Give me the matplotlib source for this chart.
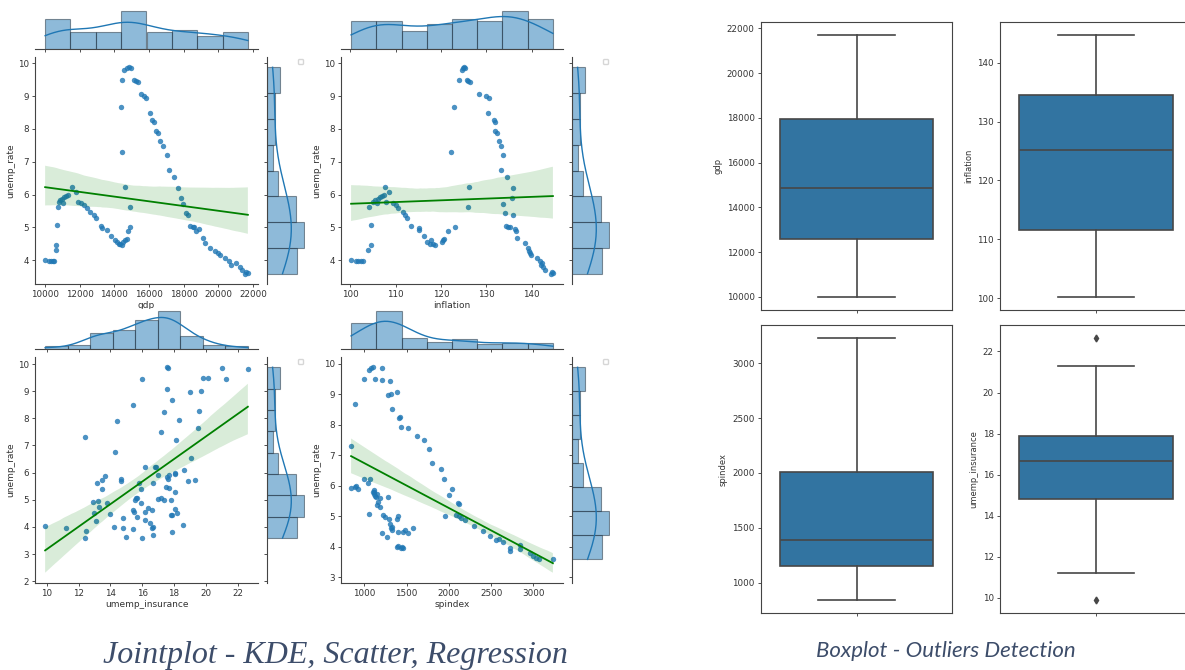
import matplotlib
matplotlib.use('Agg')
import matplotlib.pyplot as plt
import numpy as np
import seaborn as sns

W, H = 1185, 670

# quarterly rows
gdp = [10000, 10230, 10360, 10460, 10510, 10620, 10640, 10660, 10746, 10800,
       10880, 11050, 10950, 11100, 11200, 11300, 11570, 11760, 11910, 12050,
       12250, 12420, 12600, 12800, 12910, 13200, 13290, 13580, 13800, 14050,
       14150, 14250, 14330, 14420, 14500, 14600, 14700, 14800, 14920, 14900,
       14590, 14440, 14380, 14440, 14570, 14700, 14850, 14980, 15110, 15220,
       15340, 15530, 15680, 15800, 16030, 16160, 16300, 16410, 16540, 16640,
       16790, 17060, 17120, 17450, 17690, 17830, 17940, 18130, 18270, 18360,
       18510, 18600, 18710, 18900, 19130, 19220, 19510, 19800, 19950, 20090,
       20370, 20620, 20750, 21000, 21230, 21380, 21520, 21610, 21700]
inflation = [100.2, 101.2, 101.7, 102.3, 102.8, 103.9, 104.7, 104.7, 104.1, 105.0,
             105.5, 105.9, 106.2, 106.6, 107.0, 107.4, 107.6, 108.6, 108.0, 109.5,
             110.2, 110.5, 111.6, 112.0, 112.5, 113.5, 115.1, 115.2, 116.2, 117.8,
             116.9, 117.5, 118.2, 118.8, 120.2, 120.4, 120.6, 121.5, 123.2, 126.0,
             126.2, 122.3, 122.8, 124.1, 124.6, 124.9, 125.1, 125.3, 125.7, 126.0,
             126.4, 128.4, 130.0, 130.5, 130.3, 131.8, 132.0, 132.0, 132.4, 132.8,
             133.2, 133.7, 133.2, 134.6, 135.8, 135.7, 133.7, 134.2, 135.8, 134.4,
             134.8, 135.2, 136.6, 136.4, 136.8, 138.6, 139.1, 139.5, 139.7, 139.9,
             141.3, 141.8, 142.0, 142.3, 142.5, 143.0, 144.2, 144.4, 144.7]
unemp_rate = [4.02, 3.97, 3.98, 3.97, 3.98, 4.32, 4.45, 5.07, 5.63, 5.78,
              5.85, 5.73, 5.88, 5.92, 5.95, 5.98, 6.22, 6.08, 5.78, 5.73,
              5.68, 5.60, 5.48, 5.38, 5.30, 5.05, 4.99, 4.91, 4.75, 4.62,
              4.55, 4.50, 4.48, 4.45, 4.55, 4.61, 4.65, 4.90, 5.02, 5.63,
              6.22, 7.30, 8.68, 9.49, 9.80, 9.85, 9.88, 9.87, 9.49, 9.46,
              9.43, 9.07, 9.02, 8.96, 8.50, 8.26, 8.22, 7.93, 7.89, 7.63,
              7.49, 7.22, 6.75, 6.54, 6.21, 5.90, 5.70, 5.45, 5.39, 5.05,
              5.01, 5.00, 4.88, 4.94, 4.68, 4.51, 4.36, 4.27, 4.22, 4.15,
              4.07, 3.97, 3.85, 3.93, 3.80, 3.69, 3.59, 3.64, 3.60]
spindex = [1400, 1430, 1450, 1460, 1390, 1262, 1210, 1051, 1140, 1100,
           1110, 1150, 920, 842, 892, 900, 1000, 1043, 1110, 1110,
           1120, 1185, 1160, 1150, 1180, 1217, 1245, 1290, 1300, 1310,
           1330, 1394, 1457, 1513, 1480, 1572, 1330, 1386, 1398, 1276,
           1060, 842, 890, 1000, 1059, 1079, 1099, 1205, 1126, 1205,
           1304, 1387, 1316, 1276, 1328, 1422, 1406, 1434, 1520, 1623,
           1702, 1769, 1801, 1900, 1947, 2038, 2006, 2104, 2124, 2085,
           2124, 1959, 2191, 2144, 2293, 2408, 2491, 2598, 2560, 2640,
           2842, 2728, 2728, 2842, 2964, 3000, 3071, 3030, 3230]
umemp_insurance = [9.9, 11.2, 14.2, 14.8, 16.7, 14.8, 17.8, 15.6, 15.8, 17.6,
                   17.57, 13.5, 13.68, 17.7, 18.09, 18.05, 16.8, 18.65, 14.67, 19.3,
                   18.9, 16.66, 17.5, 13.5, 18.05, 15.7, 15.55, 12.9, 13.3, 15.4,
                   16.2, 13.0, 14.0, 17.9, 15.5, 16.6, 18.05, 13.8, 17.0, 13.15,
                   16.9, 12.4, 17.9, 19.85, 22.65, 21.0, 17.55, 17.6, 20.13, 21.29,
                   15.99, 17.57, 19.7, 18.98, 15.4, 19.6, 17.36, 18.3, 14.4, 19.5,
                   17.19, 18.14, 14.3, 19.1, 16.2, 17.0, 14.7, 17.7, 15.9, 17.2,
                   17.4, 17.8, 15.9, 13.2, 16.4, 18.2, 15.7, 16.2, 13.1, 16.5,
                   18.6, 16.6, 12.5, 15.4, 17.9, 16.7, 12.4, 15.0, 15.99]

BLUE = '#1f77b4'
TEXT = '#333333'
CAPTION = '#3d4d6a'


def box(x0, y0, x1, y1):
    """pixel box (top-left origin) -> figure rect"""
    return [x0 / W, 1 - y1 / H, (x1 - x0) / W, (y1 - y0) / H]


def style(ax):
    ax.tick_params(labelsize=6.3, length=2.5, width=0.6, pad=2, colors=TEXT)
    for s in ax.spines.values():
        s.set_linewidth(0.8)
        s.set_color('#444444')


def kde_counts(vals, bins, bw_adjust=1.0):
    """gaussian kde (scott bandwidth) scaled to histogram counts"""
    v = np.asarray(vals, dtype=float)
    n = len(v)
    bw = v.std(ddof=1) * n ** (-0.2) * bw_adjust
    grid = np.linspace(v.min(), v.max(), 200)
    dens = np.exp(-0.5 * ((grid[:, None] - v[None, :]) / bw) ** 2).sum(1)
    dens /= n * bw * np.sqrt(2 * np.pi)
    return grid, dens * n * (v.max() - v.min()) / bins


def jointplot(fig, x, xname, xbins, jx0, jx1, jy0, jy1):
    ax = fig.add_axes(box(jx0, jy0, jx1, jy1))
    axt = fig.add_axes(box(jx0, jy0 - 48, jx1, jy0 - 8), sharex=ax)
    axr = fig.add_axes(box(jx1 + 9, jy0, jx1 + 47, jy1), sharey=ax)

    sns.regplot(x=x, y=unemp_rate, ax=ax, seed=0,
                scatter_kws=dict(s=15, color=BLUE, alpha=0.8, linewidths=0),
                line_kws=dict(color='green', lw=1.3))
    ax.set_xlabel(xname, fontsize=6.5, labelpad=1.5, color=TEXT)
    ax.set_ylabel('unemp_rate', fontsize=6.5, labelpad=2, color=TEXT)
    ax.spines[['top', 'right']].set_visible(False)
    style(ax)

    bar_kw = dict(color=BLUE, alpha=0.5, edgecolor='#1d2b38', linewidth=0.8)
    axt.hist(x, bins=xbins, **bar_kw)
    gx, cx = kde_counts(x, xbins)
    axt.plot(gx, cx, color=BLUE, lw=1)
    axt.set_ylim(0, None)

    counts, _, _ = axr.hist(unemp_rate, bins=8, orientation='horizontal', **bar_kw)
    gy, cy = kde_counts(unemp_rate, 8, bw_adjust=1.5)
    axr.plot(cy, gy, color=BLUE, lw=1)
    axr.set_xlim(0, max(counts.max(), cy.max()) * 1.04)

    for m in (axt, axr):
        style(m)
    axt.spines[['top', 'right', 'left']].set_visible(False)
    axt.tick_params(labelbottom=False)
    axt.yaxis.set_visible(False)
    axr.spines[['top', 'right', 'bottom']].set_visible(False)
    axr.tick_params(labelleft=False)
    axr.xaxis.set_visible(False)
    axr.legend(handles=[], loc='upper right', fontsize=3, borderpad=0.6)


def boxplot(fig, vals, name, x0, y0, x1, y1):
    ax = fig.add_axes(box(x0, y0, x1, y1))
    line = dict(color='#474747', lw=1.2)
    ax.boxplot(vals, positions=[0], widths=0.8, patch_artist=True,
               boxprops=dict(facecolor='#3274a1', edgecolor='#474747', lw=1.2),
               medianprops=line, whiskerprops=line, capprops=line,
               flierprops=dict(marker='d', markerfacecolor='#474747',
                               markeredgecolor='#474747', markersize=3.5))
    ax.set_xlim(-0.5, 0.5)
    ax.set_xticks([0])
    ax.set_xticklabels([''])
    ax.set_ylabel(name, fontsize=6, labelpad=3, color=TEXT)
    style(ax)


fig = plt.figure(figsize=(W / 100, H / 100), dpi=100)

jointplot(fig, gdp, 'gdp', 8, 35, 258, 57, 284)
jointplot(fig, inflation, 'inflation', 8, 341, 563, 57, 284)
jointplot(fig, umemp_insurance, 'umemp_insurance', 9, 35, 258, 357, 583)
jointplot(fig, spindex, 'spindex', 8, 341, 563, 357, 583)

boxplot(fig, gdp, 'gdp', 761, 22, 952, 310)
boxplot(fig, inflation, 'inflation', 1000, 22, 1192, 310)
boxplot(fig, spindex, 'spindex', 761, 325, 952, 613)
boxplot(fig, umemp_insurance, 'umemp_insurance', 1000, 325, 1192, 613)

fig.text(335 / W, 1 - 655 / H, 'Jointplot - KDE, Scatter, Regression',
         family='Liberation Serif', style='italic', size=23, color=CAPTION,
         ha='center', va='center')
fig.text(946 / W, 1 - 651 / H, 'Boxplot - Outliers Detection',
         family='Lato', style='italic', size=16, color=CAPTION,
         ha='center', va='center')

fig.savefig('out.png', dpi=100)
